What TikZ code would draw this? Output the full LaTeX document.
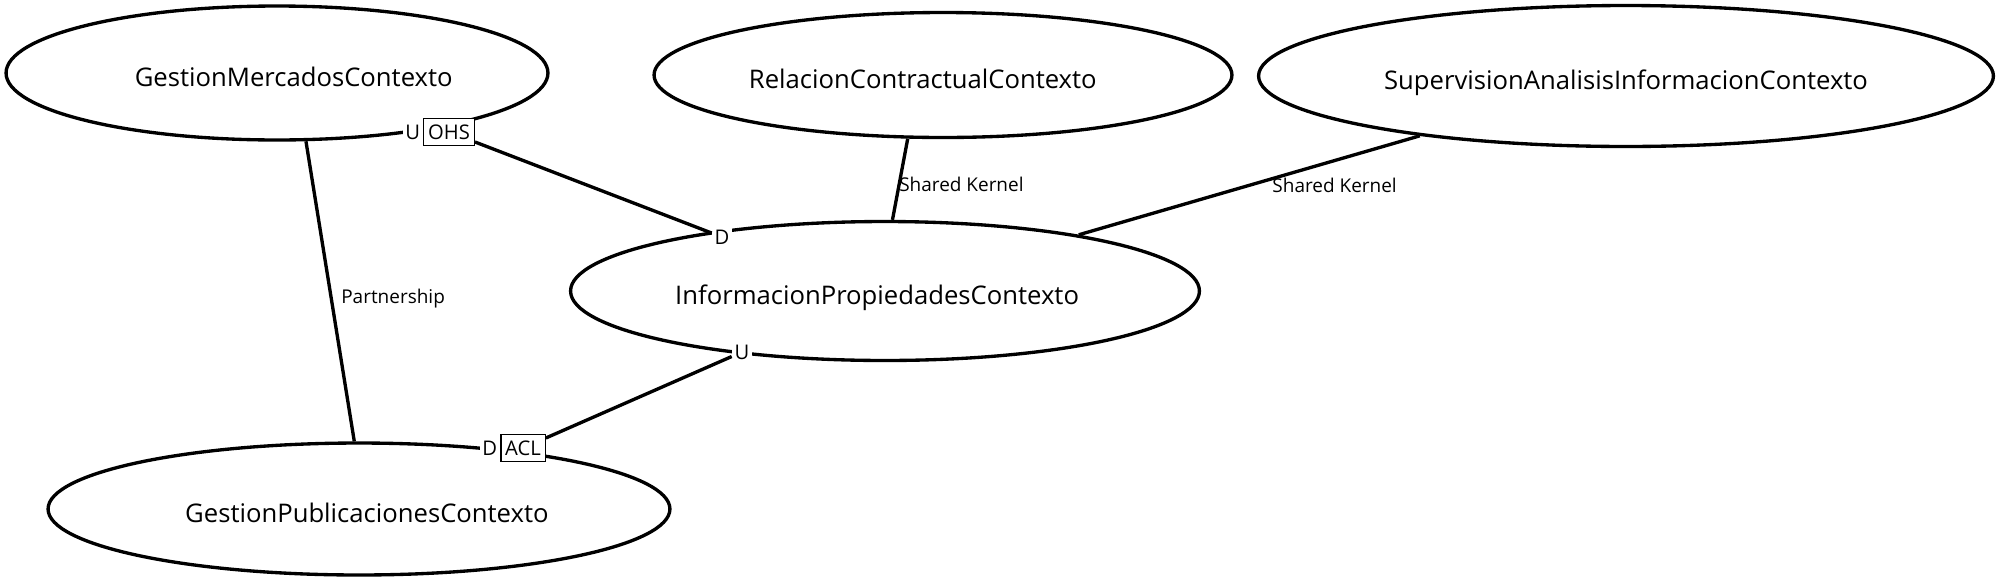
\documentclass[tikz,border=0pt]{standalone}
\usepackage{fontspec}
\setmainfont{Open Sans}
\usepackage{tikz}
\usetikzlibrary{shapes.geometric, positioning}
\tikzset{
    context/.style={ellipse, draw=black, line width=1.9pt, inner sep=0pt,
        text height=16pt, text depth=0.4pt,
        font=\fontsize{14.6}{17}\selectfont},
    rolelabel/.style={rectangle, fill=white, inner sep=1.5pt,
        font=\fontsize{11.5}{13}\selectfont},
    patternbox/.style={rectangle, draw=black, line width=0.8pt, fill=white,
        inner xsep=2.5pt, inner ysep=0pt, minimum height=15.5pt,
        font=\fontsize{11.5}{13}\selectfont},
    relation/.style={line width=1.9pt},
    relationlabel/.style={font=\fontsize{10.8}{13}\selectfont, inner sep=2pt}
}

\begin{document}
\begin{tikzpicture}[x=0.02cm, y=-0.02cm]
\useasboundingbox (0,0) rectangle (2000,582);
\node[context, minimum width=10.84cm, minimum height=2.68cm] (mercados) at (277,73) {\hspace*{19pt}GestionMercadosContexto};
\node[context, minimum width=11.56cm, minimum height=2.5cm] (contractual) at (943,75) {RelacionContractualContexto\hspace*{23pt}};
\node[context, minimum width=14.7cm, minimum height=2.82cm] (supervision) at (1626,76) {SupervisionAnalisisInformacionContexto};
\node[context, minimum width=12.58cm, minimum height=2.78cm] (propiedades) at (885,291) {InformacionPropiedadesContexto\hspace*{9pt}};
\node[context, minimum width=12.44cm, minimum height=2.64cm] (publicaciones) at (359,509) {\hspace*{9pt}GestionPublicacionesContexto};
\node[patternbox] (ohs) at (449,132) {OHS};
\node[rolelabel, left=0pt of ohs] (umercados) {U};
\node[rolelabel] (dpropiedades) at (722,237) {D};
\node[rolelabel] (upropiedades) at (742,352) {U};
\node[patternbox] (acl) at (523,448) {ACL};
\node[rolelabel, left=0pt of acl] (dpublicaciones) {D};
\draw[relation] (ohs) -- (dpropiedades);
\draw[relation] (upropiedades) -- (acl);
\draw[relation] (mercados.293) -- (publicaciones.94)
    node[relationlabel, midway, right, xshift=0.12cm, yshift=-0.14cm] {Partnership};
\draw[relation] (contractual.241) -- (propiedades.84)
    node[relationlabel, midway, right, xshift=-0.12cm, yshift=-0.1cm] {Shared Kernel};
\draw[relation] (supervision) -- (propiedades)
    node[relationlabel, midway, right, xshift=0.36cm] {Shared Kernel};
\end{tikzpicture}
\end{document}
